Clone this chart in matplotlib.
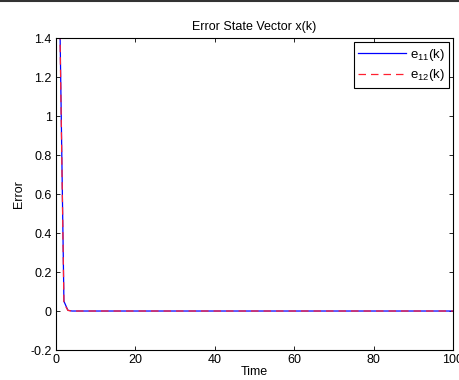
import numpy as np
import matplotlib
matplotlib.use('Agg')
import matplotlib.pyplot as plt
from matplotlib.lines import Line2D

plt.rcParams['font.family'] = ['Liberation Sans', 'DejaVu Sans']
plt.rcParams['mathtext.fontset'] = 'custom'
plt.rcParams['mathtext.rm'] = 'Liberation Sans'

# time steps and error states
k = np.arange(1, 101)
e11_head = [1.46, 0.05, 0.004]
e12_head = [1.43, 0.04, 0.003]
e11 = np.array(e11_head + [0.0] * (len(k) - len(e11_head)))
e12 = np.array(e12_head + [0.0] * (len(k) - len(e12_head)))

xticks = [0, 20, 40, 60, 80, 100]
yticks = [-0.2, 0, 0.2, 0.4, 0.6, 0.8, 1, 1.2, 1.4]

fig = plt.figure(figsize=(4.6, 3.8), dpi=100)
ax = fig.add_axes([0.1217, 0.0789, 0.863, 0.821])

ax.plot(k, e11, color='blue', linewidth=0.9, label='e$_{11}$(k)')
ax.plot(k, e12, color='#ff2030', linestyle=(0, (6, 4)), linewidth=0.9,
        label='e$_{12}$(k)')

ax.set_xlim(0, 100)
ax.set_ylim(-0.2, 1.4)
ax.set_xticks(xticks)
ax.set_xticklabels([str(t) for t in xticks])
ax.set_yticks(yticks)
ax.set_yticklabels(['%g' % t for t in yticks])
ax.tick_params(direction='in', top=True, right=True, length=3, width=0.6,
               labelsize=9, pad=3)
for sp in ax.spines.values():
    sp.set_linewidth(0.8)

ax.set_title('Error State Vector x(k)', fontsize=9, pad=6)
ax.set_xlabel('Time', fontsize=9, labelpad=0)
ax.set_ylabel('Error', fontsize=9, labelpad=4)

leg = ax.legend(loc='upper right', fontsize=9.5, frameon=True, fancybox=False,
                framealpha=1, edgecolor='black', handlelength=3.6,
                borderpad=0.35, labelspacing=0.35, handletextpad=0.3,
                borderaxespad=0.3)
leg.get_frame().set_linewidth(0.8)

# thin dark rule along the top edge of the image
fig.add_artist(Line2D([0, 1], [0.997, 0.997], transform=fig.transFigure,
                      color='#333333', linewidth=1.5))

fig.savefig('out.png', dpi=100)
